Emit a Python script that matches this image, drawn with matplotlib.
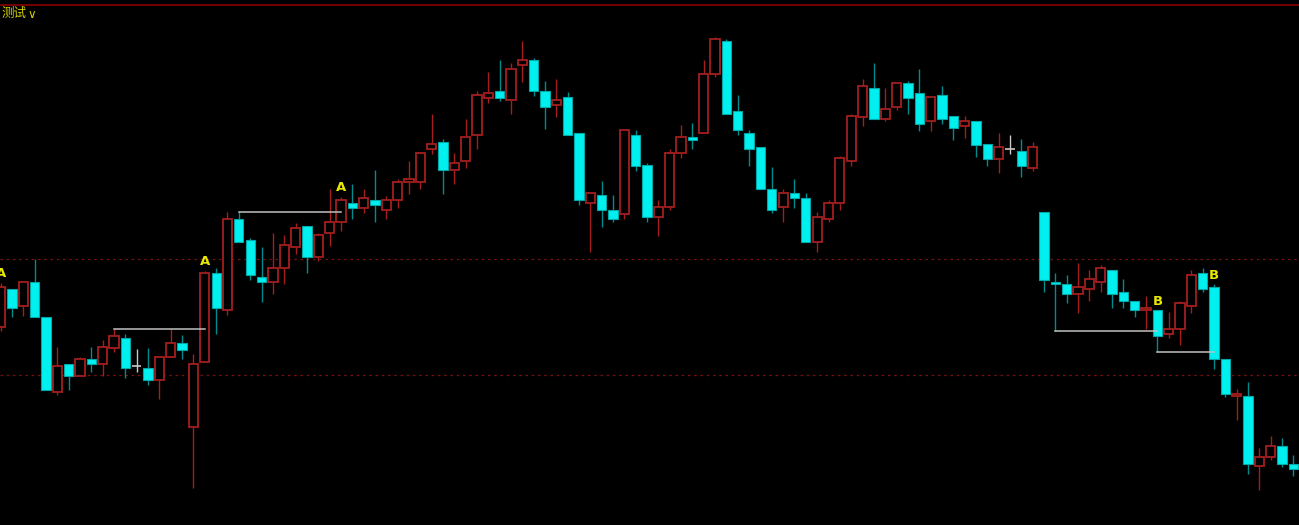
import matplotlib
matplotlib.use("Agg")
import matplotlib.pyplot as plt
import numpy as np

plt.rcParams['font.family'] = ['Noto Sans CJK SC', 'DejaVu Sans']

# ---- data (price units) ----
opens = [273.3, 311.3, 294.3, 317.7, 283, 208.3, 236.3, 224.3, 241, 236.3,
         252.3, 261.7, 233.7, 231.7, 219.7, 242.7, 257, 173, 238.3, 327,
         289.7, 381, 359.7, 322.7, 317.7, 331.7, 353, 373.7, 343.3, 366.7,
         378.3, 397, 392.3, 399.7, 390.3, 399.7, 418.3, 418.3, 451, 457.7,
         429.7, 439, 464.7, 502.3, 509.3, 499.7, 535, 540, 509.3, 495,
         502.7, 467.3, 397, 404.7, 390.3, 385.7, 465.3, 434.7, 383, 392.7,
         446.7, 462.7, 467.3, 525.7, 558.7, 488.7, 467.3, 453.3, 411.3, 392.7,
         406.7, 402, 357.7, 380.7, 396.7, 438.7, 483.3, 512, 480.7, 492.7,
         516.7, 507.3, 478.7, 504.7, 484, 474.3, 479.3, 456, 441.3, 451.3,
         448.7, 432, 388, 317.7, 315.7, 306.3, 310.7, 317.7, 329.7, 308.3,
         299, 289.7, 289.7, 266.3, 271, 294.3, 327, 313, 241, 203.7,
         203.7, 133.7, 143, 154.3, 135.7]
highs = [317.3, 311.3, 317.7, 341.3, 283, 252.7, 236.3, 242.7, 252.7, 260,
         270.7, 266.3, 250.7, 252.3, 243, 270.7, 264.7, 245.7, 329.3, 331.7,
         388, 388, 362.3, 353.3, 367.3, 364.7, 376.7, 373.7, 366.7, 411,
         403.3, 416, 411, 430, 404.3, 420.7, 439.3, 448.3, 486, 460.7,
         446.7, 481.3, 509, 528, 540, 537.3, 558.7, 542, 519, 521,
         507.7, 467.3, 406.7, 419, 404.7, 470, 470, 437, 400, 451.3,
         474.7, 476.7, 540, 563, 561, 505, 470, 453.3, 432.7, 411,
         420.7, 406.7, 388, 400, 444, 486, 521.3, 537.3, 512, 516.7,
         518.7, 530.7, 502.7, 514, 484, 484, 479.3, 456, 467.3, 465.3,
         460.7, 458, 388, 327, 325, 336.7, 330, 334.7, 329.7, 320.7,
         299, 304, 289.7, 287.7, 299, 330, 331.7, 315.7, 241, 210.7,
         217.7, 152.3, 164, 161.7, 145]
lows = [269.3, 282.7, 284.3, 282.7, 210, 205, 210, 224.3, 228.3, 224.3,
        247.7, 222.3, 228.3, 214.7, 200.7, 242.7, 240.7, 112.3, 238.3, 266.3,
        285, 357.7, 320, 298.3, 306, 315.7, 345.7, 326.7, 339, 354.3,
        369, 380.7, 387.3, 378.3, 380.7, 392.3, 406.3, 410.7, 446, 406.3,
        415.7, 432.3, 451, 497.3, 499.3, 485.7, 518.3, 504.3, 471.3, 483.3,
        465, 395, 348.3, 373.3, 378.3, 380.7, 429.3, 378.3, 364.3, 390.3,
        441.7, 451, 467.3, 523, 485.7, 464.7, 434.3, 411, 387.3, 378.3,
        392.3, 357.7, 348.3, 378, 390, 434, 474, 480.7, 479, 490,
        485.7, 469.3, 469.3, 476.3, 460, 462.3, 443.3, 434, 427.3, 446,
        422.7, 429.3, 308.3, 269, 296.7, 287.3, 299, 308.3, 292, 292,
        282.7, 271, 247.7, 261.7, 254.7, 287.3, 308.3, 231.3, 203.3, 180,
        126, 110.3, 140, 133.3, 124]
closes = [313.3, 292, 317.7, 282.7, 210, 233.7, 224.3, 241, 236.3, 252.7,
          264.3, 231.7, 233.7, 219.7, 243, 257, 250.3, 236.3, 327, 292.3,
          381, 357.7, 325, 317.7, 331.7, 355, 371.7, 343.3, 364.7, 378.3,
          399.7, 392.3, 401.7, 395, 399.7, 418.3, 420.7, 446.7, 455.7, 429.7,
          437, 462.7, 504.7, 507.3, 502.3, 530.7, 539.7, 508.7, 493, 499.7,
          465, 399.7, 406.7, 390.3, 381, 470, 434.3, 383, 392.7, 446.7,
          462.7, 460.3, 525.7, 560.7, 485.7, 470, 451, 411, 390.3, 406.7,
          401.7, 357.7, 383.3, 397.3, 442, 484, 514, 480.7, 490.7, 516.7,
          502.3, 476.3, 502.7, 481, 471.7, 479.3, 455.3, 441.3, 453.3, 451.3,
          434, 453.3, 320, 315.7, 306.3, 313, 320.7, 331.7, 306.3, 299,
          289.7, 292.3, 264.3, 271, 297, 325, 310.7, 241, 205.7, 205.7,
          135.7, 143, 154.3, 135.7, 131]

# signal labels: (bar index, text)
signal_idx = [0, 18, 30, 102, 107]
signal_txt = ["A", "A", "A", "B", "B"]

# horizontal reference segments: (start idx, end idx, price)
seg_start = [10, 21, 93, 102]
seg_end = [18, 30, 102, 107]
seg_price = [271, 388, 269, 247.7]

# dashed levels
levels = [341, 224.7]

# ---- styling ----
UP_EDGE = '#a51e1e'
DN_FILL = '#00f0f0'
DN_EDGE = '#00a8a8'
DN_WICK = '#008c8c'
DOJI = '#c8c8c8'

o = np.array(opens); h = np.array(highs); l = np.array(lows); c = np.array(closes)
x = np.arange(len(o))

fig = plt.figure(figsize=(12.99, 5.25), dpi=100, facecolor='black')
ax = fig.add_axes([0, 0, 1, 1])
ax.set_facecolor('black')
ax.set_xlim(-0.062, 114.49)
ax.set_ylim(75, 600)
ax.axis('off')

for lv in levels:
    ax.axhline(lv, color='#7a1010', lw=0.9, ls=(0, (2, 3)), zorder=1)

up = c > o
dn = c < o
dj = c == o

top = np.maximum(o, c)
bot = np.minimum(o, c)

# wicks
ax.vlines(x[up], top[up], h[up], color=UP_EDGE, lw=1.0, zorder=2)
ax.vlines(x[up], l[up], bot[up], color=UP_EDGE, lw=1.0, zorder=2)
ax.vlines(x[dn], l[dn], h[dn], color=DN_WICK, lw=1.0, zorder=2)
ax.vlines(x[dj], l[dj], h[dj], color=DOJI, lw=1.0, zorder=2)

W = 0.82
ax.bar(x[up], (c - o)[up], bottom=o[up], width=W, facecolor='black',
       edgecolor=UP_EDGE, linewidth=1.3, zorder=3)
ax.bar(x[dn], (c - o)[dn], bottom=o[dn], width=W, facecolor=DN_FILL,
       edgecolor=DN_EDGE, linewidth=0.8, zorder=3)
ax.hlines(o[dj], x[dj] - W / 2, x[dj] + W / 2, color=DOJI, lw=1.2, zorder=3)

# reference segments
for s, e, p in zip(seg_start, seg_end, seg_price):
    ax.plot([s, e], [p, p], color='#c0c0c0', lw=1.1, zorder=4)

# signal labels
for i, t in zip(signal_idx, signal_txt):
    ax.text(i, h[i] + 2.5, t, color='#e8e800', fontsize=9.5, fontweight='bold',
            ha='center', va='bottom', family='DejaVu Sans', zorder=5)

# top border line and title
ax.axhline(595.3, color='#800000', lw=1.3, zorder=5)
fig.text(0.0015, 0.975, "测试", color='#d2d200', fontsize=9, ha='left', va='center')
fig.text(0.0215, 0.9725, "∨", color='#d2d200', fontsize=8.5, ha='left', va='center',
         family=['DejaVu Sans'])

fig.savefig('out.png', dpi=100, facecolor='black')
